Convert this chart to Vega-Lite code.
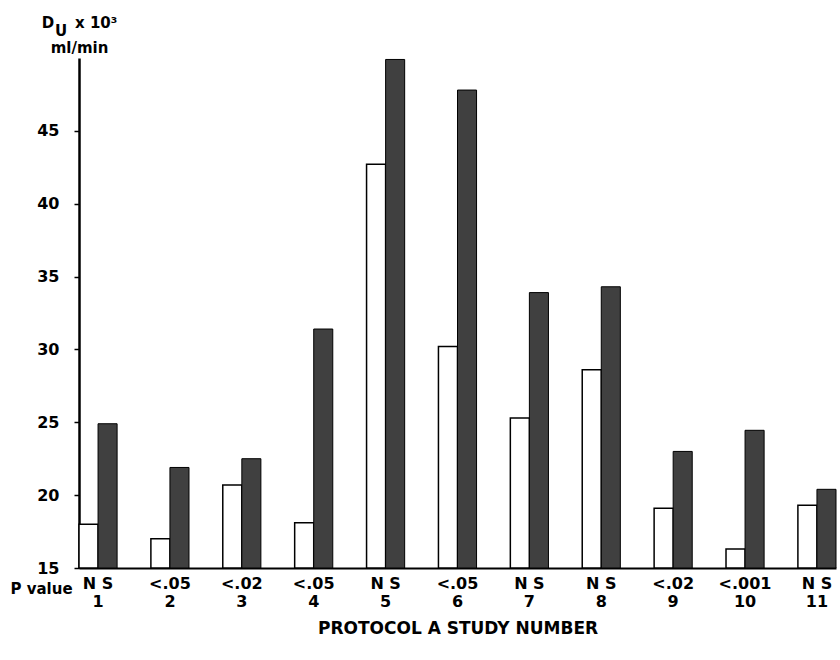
{
  "$schema": "https://vega.github.io/schema/vega-lite/v6.json",
  "width": 757,
  "height": 510,
  "autosize": "none",
  "padding": {"left": 79, "top": 58, "right": 4, "bottom": 92},
  "background": "white",
  "config": {"view": {"stroke": null}, "font": "DejaVu Sans"},
  "title": {"text": "U", "anchor": "start", "frame": "group", "orient": "top", "dx": -24, "dy": 36, "offset": 0, "baseline": "alphabetic", "fontSize": 15, "fontWeight": "bold", "color": "black", "font": "DejaVu Sans"},
  "data": {"values": [
    {"study": 1, "group": "A", "value": 18.0, "p": "N S"},
    {"study": 1, "group": "B", "value": 24.9, "p": "N S"},
    {"study": 2, "group": "A", "value": 17.0, "p": "<.05"},
    {"study": 2, "group": "B", "value": 21.9, "p": "<.05"},
    {"study": 3, "group": "A", "value": 20.7, "p": "<.02"},
    {"study": 3, "group": "B", "value": 22.5, "p": "<.02"},
    {"study": 4, "group": "A", "value": 18.1, "p": "<.05"},
    {"study": 4, "group": "B", "value": 31.4, "p": "<.05"},
    {"study": 5, "group": "A", "value": 42.7, "p": "N S"},
    {"study": 5, "group": "B", "value": 49.9, "p": "N S"},
    {"study": 6, "group": "A", "value": 30.2, "p": "<.05"},
    {"study": 6, "group": "B", "value": 47.8, "p": "<.05"},
    {"study": 7, "group": "A", "value": 25.3, "p": "N S"},
    {"study": 7, "group": "B", "value": 33.9, "p": "N S"},
    {"study": 8, "group": "A", "value": 28.6, "p": "N S"},
    {"study": 8, "group": "B", "value": 34.3, "p": "N S"},
    {"study": 9, "group": "A", "value": 19.1, "p": "<.02"},
    {"study": 9, "group": "B", "value": 23.0, "p": "<.02"},
    {"study": 10, "group": "A", "value": 16.3, "p": "<.001"},
    {"study": 10, "group": "B", "value": 24.45, "p": "<.001"},
    {"study": 11, "group": "A", "value": 19.3, "p": "N S"},
    {"study": 11, "group": "B", "value": 20.4, "p": "N S"}
  ]},
  "encoding": {
    "x": {
      "field": "study", "type": "ordinal",
      "scale": {"paddingInner": 0.47, "paddingOuter": 0},
      "axis": {
        "domainColor": "black", "domainWidth": 2, "ticks": false, "grid": false,
        "labelAngle": 0, "labelFont": "DejaVu Sans", "labelFontSize": 16, "labelFontWeight": "bold",
        "labelColor": "black", "labelBaseline": "top", "labelPadding": 7, "labelLineHeight": 18,
        "labelExpr": "[['N S','<.05','<.02','<.05','N S','<.05','N S','N S','<.02','<.001','N S'][datum.value - 1], datum.label]",
        "title": "PROTOCOL A STUDY NUMBER", "titleFont": "DejaVu Sans", "titleFontSize": 17, "titleFontWeight": "bold",
        "titleColor": "black", "titleBaseline": "alphabetic", "titleY": 65
      }
    },
    "xOffset": {"field": "group", "type": "nominal", "scale": {"domain": ["A", "B"], "paddingInner": 0}},
    "color": {"field": "group", "type": "nominal", "scale": {"domain": ["A", "B"], "range": ["#ffffff", "#404040"]}, "legend": null}
  },
  "layer": [
    {
      "transform": [{"filter": "datum.group == 'A'"}],
      "mark": {"type": "bar", "stroke": "black", "strokeWidth": 1.5},
      "encoding": {
        "y": {
          "field": "value", "type": "quantitative",
          "scale": {"domain": [15, 50], "nice": false, "zero": false},
          "axis": {
            "values": [15, 20, 25, 30, 35, 40, 45], "grid": false,
            "tickSize": 5, "tickColor": "black", "tickWidth": 1.5,
            "domainColor": "black", "domainWidth": 2.5,
            "labelFont": "DejaVu Sans", "labelFontWeight": "bold", "labelFontSize": 16, "labelColor": "black", "labelPadding": 15,
            "title": ["D\u00a0\u00a0\u00a0\u00a0x 10³", "ml/min"], "titleAngle": 0, "titleAlign": "center", "titleBaseline": "alphabetic",
            "titleX": 0, "titleY": -31, "titleFont": "DejaVu Sans", "titleFontSize": 15, "titleLineHeight": 25,
            "titleColor": "black", "titleFontWeight": "bold"
          }
        },
        "y2": {"datum": 15}
      }
    },
    {
      "transform": [{"filter": "datum.group == 'B'"}],
      "mark": {"type": "bar", "stroke": "black", "strokeWidth": 1},
      "encoding": {
        "y": {
          "field": "value", "type": "quantitative",
          "scale": {"domain": [15, 50], "nice": false, "zero": false},
          "axis": {
            "orient": "left", "domain": false, "ticks": false, "labels": false, "grid": false,
            "title": "P value", "titleAngle": 0, "titleAlign": "left", "titleBaseline": "alphabetic",
            "titleX": -69, "titleY": 535, "titleFont": "DejaVu Sans", "titleFontSize": 15,
            "titleFontWeight": "bold", "titleColor": "black"
          }
        },
        "y2": {"datum": 15}
      }
    }
  ],
  "resolve": {"axis": {"y": "independent"}}
}
